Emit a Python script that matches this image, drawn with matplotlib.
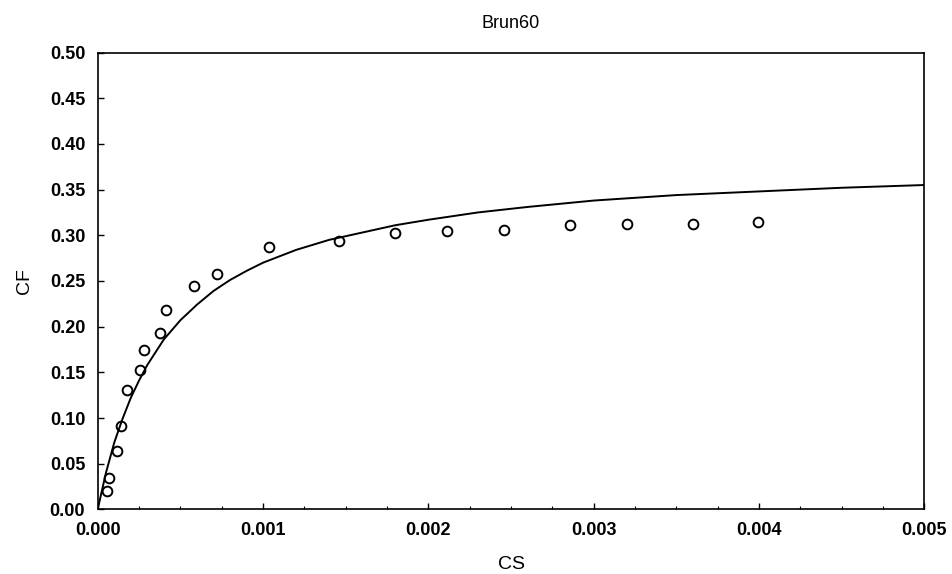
import matplotlib
matplotlib.use("Agg")
import matplotlib.pyplot as plt
from matplotlib.ticker import MultipleLocator

plt.rcParams['font.family'] = ['Liberation Sans', 'DejaVu Sans']

# Measured equilibrium data
cs_obs = [0.000059, 0.000070, 0.000114, 0.000140, 0.000176, 0.000257, 0.000279,
          0.000374, 0.000415, 0.000580, 0.000723, 0.001039, 0.001457, 0.001800,
          0.002115, 0.002456, 0.002856, 0.003201, 0.003601, 0.003994]
cf_obs = [0.020, 0.034, 0.064, 0.091, 0.131, 0.153, 0.174, 0.193, 0.218, 0.245,
          0.258, 0.287, 0.294, 0.302, 0.305, 0.306, 0.311, 0.312, 0.312, 0.315]

# Fitted isotherm
cs_fit = [0.0, 0.00005, 0.0001, 0.00015, 0.0002, 0.00025, 0.0003, 0.0004, 0.0005,
          0.0006, 0.0007, 0.0008, 0.0009, 0.001, 0.0012, 0.0014, 0.0016, 0.0018,
          0.002, 0.0023, 0.0026, 0.003, 0.0035, 0.004, 0.0045, 0.005]
cf_fit = [0.0, 0.040, 0.073, 0.099, 0.122, 0.141, 0.158, 0.186, 0.207, 0.224,
          0.239, 0.251, 0.261, 0.270, 0.284, 0.295, 0.303, 0.311, 0.317, 0.325,
          0.331, 0.338, 0.344, 0.348, 0.352, 0.355]

x_ticks = [0.000, 0.001, 0.002, 0.003, 0.004, 0.005]
y_ticks = [0.00, 0.05, 0.10, 0.15, 0.20, 0.25, 0.30, 0.35, 0.40, 0.45, 0.50]

fig = plt.figure(figsize=(9.52, 5.74), dpi=100)
ax = fig.add_axes([0.1026, 0.1125, 0.8684, 0.7960])

ax.plot(cs_fit, cf_fit, color='black', linewidth=1.4, zorder=2)
ax.plot(cs_obs, cf_obs, linestyle='none', marker='o', markersize=7,
        markerfacecolor='none', markeredgecolor='black', markeredgewidth=1.4, zorder=3)

ax.set_xlim(0, 0.005)
ax.set_ylim(0, 0.5)
ax.set_xticks(x_ticks)
ax.set_xticklabels([f"{v:.3f}" for v in x_ticks])
ax.set_yticks(y_ticks)
ax.set_yticklabels([f"{v:.2f}" for v in y_ticks])
ax.xaxis.set_minor_locator(MultipleLocator(0.00025))

ax.tick_params(axis='both', which='major', direction='in', length=4, width=1,
               labelsize=13, top=False, right=False)
ax.tick_params(axis='x', which='major', pad=9)
ax.tick_params(axis='y', which='major', pad=9)
ax.tick_params(axis='x', which='minor', direction='in', length=2, width=0.8)
for lab in ax.get_xticklabels() + ax.get_yticklabels():
    lab.set_fontweight('bold')

for sp in ax.spines.values():
    sp.set_linewidth(1.2)
    sp.set_color('black')

ax.set_title("Brun60", fontsize=13, pad=18)
ax.set_xlabel("CS", fontsize=14, labelpad=12)
ax.set_ylabel("CF", fontsize=14, labelpad=12)

fig.savefig("out.png", dpi=100, facecolor='white')
